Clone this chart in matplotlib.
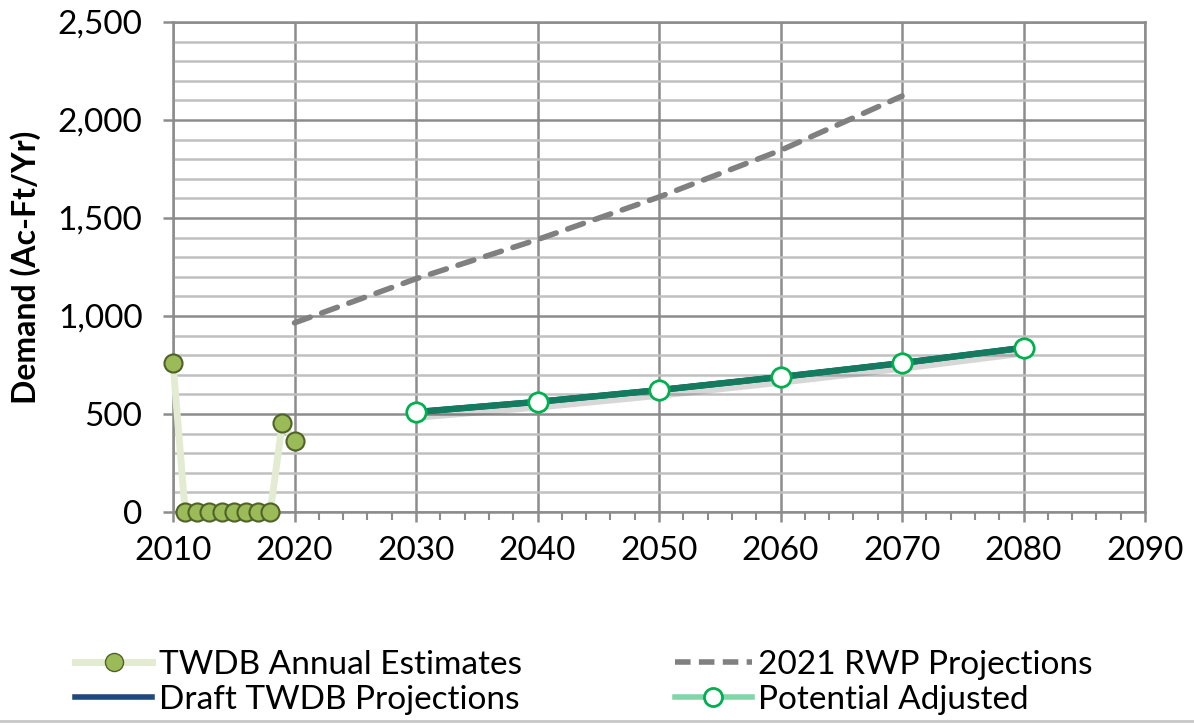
import matplotlib
matplotlib.use("Agg")
from matplotlib import pyplot as plt
from matplotlib.lines import Line2D
from matplotlib.ticker import MultipleLocator, FuncFormatter
import matplotlib.patheffects as pe

# data
est_years = [2010, 2011, 2012, 2013, 2014, 2015, 2016, 2017, 2018, 2019, 2020]
est_values = [760, 0, 0, 0, 0, 0, 0, 0, 0, 455, 362]

rwp_years = [2020, 2030, 2040, 2050, 2060, 2070]
rwp_values = [965, 1190, 1390, 1607, 1845, 2122]

proj_years = [2030, 2040, 2050, 2060, 2070, 2080]
draft_values = [510, 562, 622, 689, 760, 838]
adjusted_values = [510, 562, 622, 689, 760, 838]

plt.rcParams['font.family'] = ['Lato', 'DejaVu Sans']

fig = plt.figure(figsize=(11.94, 7.25), dpi=100)
ax = fig.add_axes([0.1449, 0.2938, 0.8141, 0.6759])

ax.plot(est_years, est_values, color='#e3ecd2', lw=5, marker='o', ms=13,
        mfc='#9bbb59', mec='#4f6228', mew=1.5, zorder=4, clip_on=False)
ax.plot(rwp_years, rwp_values, color='#808080', lw=4, ls=(0, (3, 2.2)),
        dash_capstyle='round', zorder=3)
ax.plot(proj_years, draft_values, color='#1f497d', lw=4, zorder=3)
# soft shadow under the projection line
ax.plot(proj_years, adjusted_values, color='#147a60', lw=4.5, zorder=4,
        path_effects=[pe.SimpleLineShadow(offset=(0.5, -4), shadow_color='#606060', alpha=0.25),
                      pe.Normal()])
ax.plot(proj_years, adjusted_values, color='#147a60', lw=4.5, marker='o', ms=14,
        mfc='white', mec='#00b050', mew=2, zorder=5)

ax.set_xlim(2010, 2090)
ax.set_ylim(0, 2500)
ax.xaxis.set_major_locator(MultipleLocator(10))
ax.xaxis.set_minor_locator(MultipleLocator(2))
ax.yaxis.set_major_locator(MultipleLocator(500))
ax.yaxis.set_minor_locator(MultipleLocator(100))
ax.yaxis.set_major_formatter(FuncFormatter(lambda v, p: f"{int(v):,}"))

ax.grid(axis='x', which='major', color='#8c8c8c', lw=1.8)
ax.grid(axis='y', which='major', color='#8c8c8c', lw=1.8)
ax.grid(axis='y', which='minor', color='#c0c0c0', lw=1.8)
ax.set_axisbelow(True)
ax.tick_params(axis='x', which='major', length=7, width=1.8, color='#8c8c8c',
               labelsize=24, pad=10)
ax.tick_params(axis='x', which='minor', length=6, width=1.5, color='#8c8c8c')
ax.tick_params(axis='y', which='major', length=7, width=1.8, color='#8c8c8c',
               labelsize=24, pad=15)
ax.tick_params(axis='y', which='minor', length=0)
for s in ax.spines.values():
    s.set_color('#8c8c8c')
    s.set_linewidth(1.8)

ax.set_ylabel('Demand (Ac-Ft/Yr)', fontsize=23, fontweight='bold')
ax.yaxis.set_label_coords(-0.136, 0.5)

handles = [
    Line2D([], [], color='#e3ecd2', lw=5, marker='o', ms=13, mfc='#9bbb59', mec='#4f6228'),
    Line2D([], [], color='#1f497d', lw=4),
    Line2D([], [], color='#808080', lw=4, ls=(0, (2.8, 1.5))),
    Line2D([], [], color='#7fd6a8', lw=4, marker='o', ms=13, mfc='white', mec='#00b050', mew=2),
]
labels = ['TWDB Annual Estimates', 'Draft TWDB Projections',
          '2021 RWP Projections', 'Potential Adjusted']
fig.legend(handles, labels, loc='lower left', bbox_to_anchor=(0.038, -0.027),
           ncol=2, frameon=False, fontsize=24, handlelength=2.3, handletextpad=0.2,
           columnspacing=4.6, labelspacing=0.15)

fig.add_artist(Line2D([0, 1], [0.006, 0.006], color='#c8c8c8', lw=2))

plt.savefig('out.png', dpi=100)
